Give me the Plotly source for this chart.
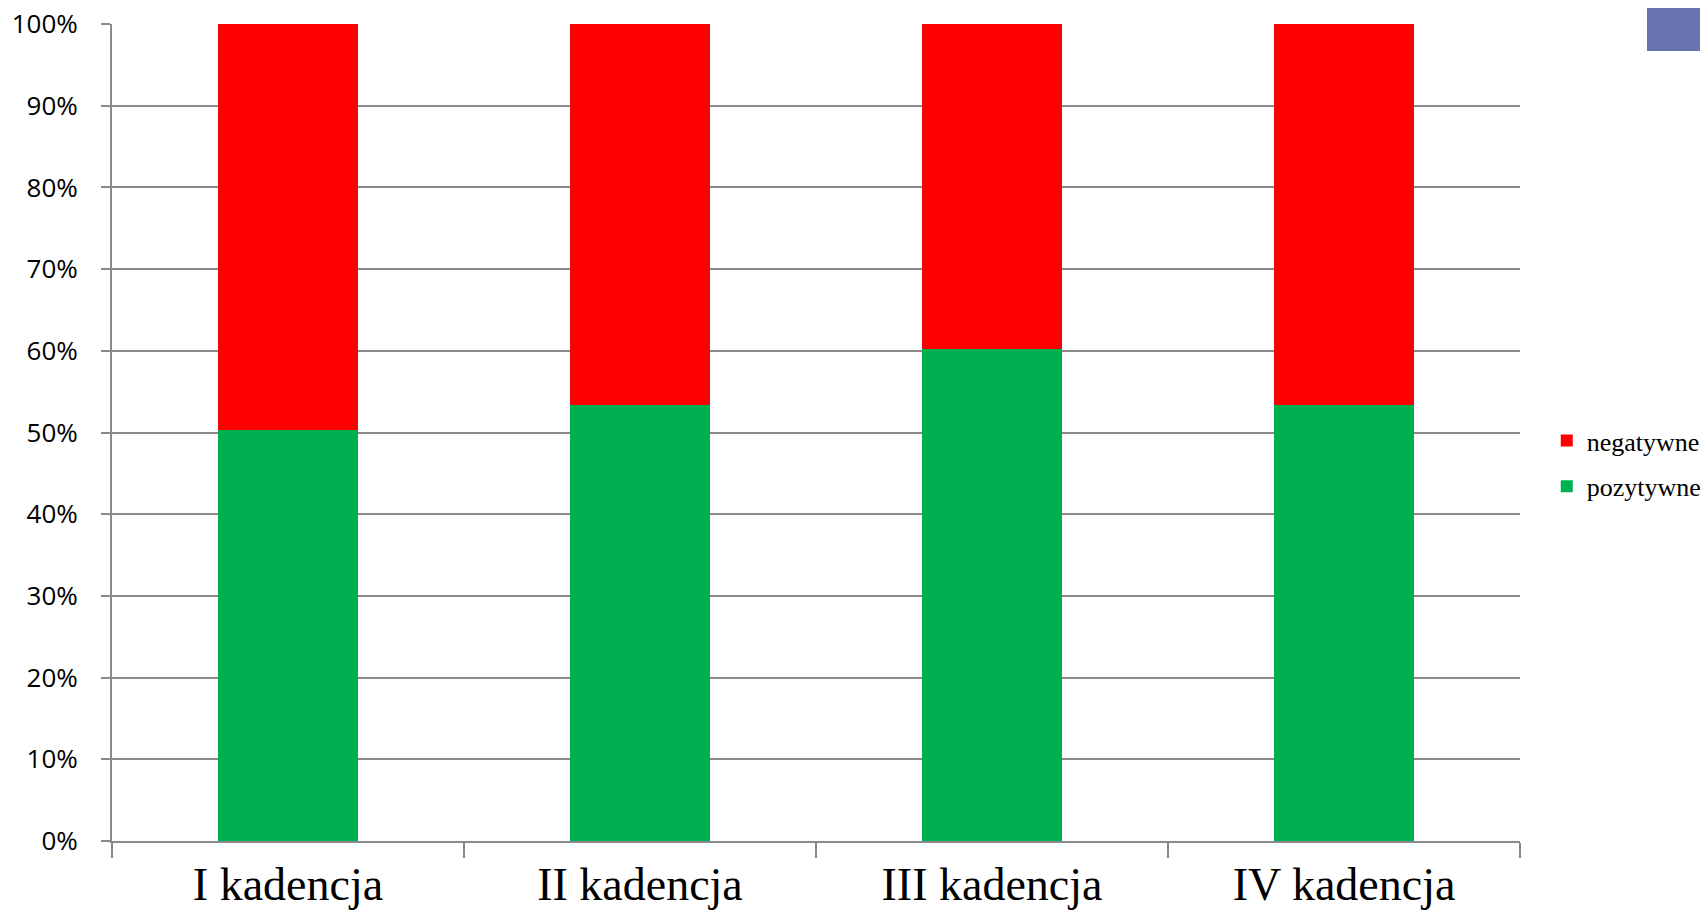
import plotly.graph_objects as go

### DATA
kadencje = ["I kadencja", "II kadencja", "III kadencja", "IV kadencja"]
pozytywne = [50.3, 53.4, 60.2, 53.4]
negatywne = [49.7, 46.6, 39.8, 46.6]
y_ticks = [0, 10, 20, 30, 40, 50, 60, 70, 80, 90, 100]
y_labels = [f"{v}%" for v in y_ticks]

GRAY = "#8a8a8a"

fig = go.Figure()
fig.add_trace(go.Bar(x=kadencje, y=pozytywne, name="pozytywne",
                     marker=dict(color="#00b050", line=dict(width=0)),
                     legendgroup="p", legendrank=2))
fig.add_trace(go.Bar(x=kadencje, y=negatywne, name="negatywne",
                     marker=dict(color="#ff0000", line=dict(width=0)),
                     legendgroup="n", legendrank=1))

# page body has an 8px margin, so the figure is shrunk to fit without scrollbars
fig.update_layout(
    width=1692, height=907,
    barmode="stack", bargap=0.6,
    plot_bgcolor="white", paper_bgcolor="white",
    margin=dict(l=104, r=180, t=16, b=74, autoexpand=False),
    legend=dict(x=1.019, y=0.462, xanchor="left", yanchor="middle",
                traceorder="grouped", tracegroupgap=9,
                font=dict(family="Liberation Serif", size=26, color="black")),
    xaxis=dict(showgrid=False, showline=True, linecolor=GRAY, linewidth=2,
               ticks="outside", tickson="boundaries", ticklen=15, tickcolor=GRAY,
               tickwidth=2, ticklabelstandoff=2, automargin=False,
               tickfont=dict(family="Liberation Serif", size=46, color="black")),
    yaxis=dict(range=[0, 100], tickvals=y_ticks, ticktext=y_labels,
               showgrid=True, gridcolor=GRAY, gridwidth=1.5,
               showline=True, linecolor=GRAY, linewidth=2,
               ticks="outside", ticklen=9, tickcolor=GRAY, tickwidth=2,
               ticklabelstandoff=18, zeroline=False, automargin=False,
               ticklabeloverflow="allow",
               tickfont=dict(family="Open Sans", size=26, color="black")),
    shapes=[dict(type="rect", xref="paper", yref="paper",
                 x0=1.0902, x1=1.2, y0=0.967, y1=1.1,
                 fillcolor="#6673b0", line=dict(width=0), layer="above")],
)

fig.write_html("out.html")
